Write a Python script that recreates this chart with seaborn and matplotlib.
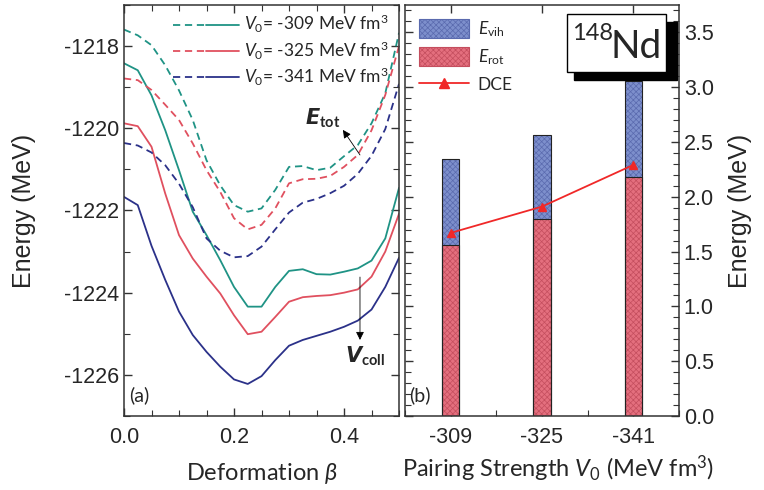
import numpy as np
import pandas as pd
import matplotlib
matplotlib.use("Agg")
import matplotlib.pyplot as plt
import seaborn as sns
from matplotlib.lines import Line2D
from matplotlib.patches import Patch, Rectangle
from matplotlib.legend_handler import HandlerTuple
from matplotlib.ticker import MultipleLocator, FormatStrFormatter

sns.set_style("ticks")
plt.rcParams['font.family'] = ['Liberation Sans', 'DejaVu Sans']
plt.rcParams['axes.unicode_minus'] = False
plt.rcParams['mathtext.fontset'] = 'custom'
plt.rcParams['mathtext.it'] = 'Lato:italic'
plt.rcParams['mathtext.rm'] = 'Lato'
plt.rcParams['mathtext.bf'] = 'Lato:bold'
plt.rcParams['hatch.linewidth'] = 0.5

TEAL = "#1f9385"
RED = "#e0505f"
NAVY = "#2b3189"
BAR_BLUE = "#7d8fcc"
BAR_BLUE_H = "#5a6aae"
BAR_RED = "#e46f7e"
BAR_RED_H = "#c44e5e"
DCE_RED = "#f02828"

# ---- panel (a): energy curves vs deformation ----
beta = [0.0, 0.025, 0.05, 0.075, 0.1, 0.125, 0.15, 0.175, 0.2, 0.225, 0.25,
        0.275, 0.3, 0.325, 0.35, 0.375, 0.4, 0.425, 0.45, 0.475, 0.5]
v0_labels = ["-309", "-325", "-341"]

etot_309 = [-1217.60, -1217.74, -1217.98, -1218.47, -1219.08, -1219.80, -1220.78,
            -1221.39, -1221.87, -1222.03, -1221.95, -1221.50, -1220.94, -1220.92,
            -1221.02, -1220.96, -1220.68, -1220.41, -1219.88, -1219.15, -1217.68]
etot_325 = [-1218.79, -1218.83, -1219.07, -1219.43, -1219.80, -1220.37, -1221.02,
            -1221.55, -1222.19, -1222.46, -1222.35, -1221.95, -1221.34, -1221.24,
            -1221.23, -1221.16, -1220.94, -1220.65, -1220.05, -1219.19, -1218.00]
etot_341 = [-1220.36, -1220.42, -1220.59, -1220.90, -1221.35, -1221.92, -1222.68,
            -1222.98, -1223.14, -1223.11, -1222.88, -1222.46, -1222.05, -1221.81,
            -1221.72, -1221.58, -1221.40, -1221.11, -1220.67, -1220.02, -1218.92]

vcoll_309 = [-1218.42, -1218.59, -1219.20, -1220.05, -1221.02, -1222.03, -1222.60,
             -1223.21, -1223.86, -1224.34, -1224.34, -1223.86, -1223.47, -1223.43,
             -1223.55, -1223.56, -1223.49, -1223.41, -1223.22, -1222.68, -1221.45]
vcoll_325 = [-1219.88, -1219.95, -1220.45, -1221.59, -1222.60, -1223.17, -1223.61,
             -1224.02, -1224.55, -1225.01, -1224.95, -1224.59, -1224.22, -1224.11,
             -1224.08, -1224.06, -1224.00, -1223.92, -1223.61, -1223.00, -1222.08]
vcoll_341 = [-1221.67, -1221.87, -1222.86, -1223.69, -1224.46, -1225.03, -1225.44,
             -1225.80, -1226.11, -1226.22, -1226.03, -1225.64, -1225.29, -1225.15,
             -1225.05, -1224.95, -1224.83, -1224.68, -1224.41, -1223.86, -1223.15]

# ---- panel (b): energies vs pairing strength ----
e_rot = [1.56, 1.80, 2.18]
e_total = [2.34, 2.56, 3.06]   # E_rot + E_vib (top of stacked bar)
dce = [1.67, 1.91, 2.29]

fig = plt.figure(figsize=(7.64, 4.90), dpi=100)
ax1 = fig.add_axes([0.1623, 0.151, 0.360, 0.839])
ax2 = fig.add_axes([0.530, 0.151, 0.3586, 0.839])

colors = [TEAL, RED, NAVY]
etots = [etot_309, etot_325, etot_341]
vcolls = [vcoll_309, vcoll_325, vcoll_341]
dash = (0, (4, 2.6))
handles = []
for c, et, vc in zip(colors, etots, vcolls):
    sns.lineplot(x=beta, y=et, ax=ax1, color=c, lw=1.3, linestyle=dash)
    sns.lineplot(x=beta, y=vc, ax=ax1, color=c, lw=1.3)
    handles.append((Line2D([], [], color=c, lw=1.3, linestyle=dash),
                    Line2D([], [], color=c, lw=1.3)))
for ln in ax1.lines:
    ln.set_solid_joinstyle('round')
    ln.set_dash_joinstyle('round')

labels = [f"$V_0$= {v} MeV fm$^3$" for v in v0_labels]
ax1.legend(handles, labels, handler_map={tuple: HandlerTuple(ndivide=None, pad=0)},
           loc='upper right', bbox_to_anchor=(1.0, 1.005), frameon=False,
           handlelength=3.8, handletextpad=0.3, labelspacing=0.25,
           prop={'family': 'Lato', 'size': 12.5}, borderaxespad=0.2)

ax1.set_xlim(0, 0.5)
ax1.set_ylim(-1227, -1217)
ax1.xaxis.set_major_locator(MultipleLocator(0.2))
ax1.xaxis.set_minor_locator(MultipleLocator(0.05))
ax1.yaxis.set_major_locator(MultipleLocator(2))
ax1.yaxis.set_minor_locator(MultipleLocator(1))
ax1.xaxis.set_major_formatter(FormatStrFormatter('%.1f'))
ax1.set_xlabel(r"Deformation $\beta$", fontsize=17, family='Lato', labelpad=9)
ax1.set_ylabel("Energy (MeV)", fontsize=18, labelpad=20)

ax1.annotate("", xy=(0.398, -1220.04), xytext=(0.429, -1220.65),
             arrowprops=dict(arrowstyle='-|>', color='black', lw=0.6,
                             mutation_scale=12, shrinkA=0, shrinkB=0))
ax1.text(0.362, -1219.75, r"$\boldsymbol{E}_{\mathbf{tot}}$", fontsize=15,
         ha='center', va='center')
ax1.annotate("", xy=(0.429, -1225.15), xytext=(0.429, -1223.62),
             arrowprops=dict(arrowstyle='-|>', color='black', lw=0.6,
                             mutation_scale=12, shrinkA=0, shrinkB=0))
ax1.text(0.438, -1225.55, r"$\boldsymbol{V}_{\mathbf{coll}}$", fontsize=15,
         ha='center', va='center')
ax1.text(0.02, 0.035, "(a)", transform=ax1.transAxes, fontsize=14, family='Lato')

# panel (b)
df = pd.DataFrame({'V0': v0_labels, 'total': e_total, 'rot': e_rot, 'dce': dce})
sns.barplot(data=df, x='V0', y='total', ax=ax2, color=BAR_BLUE, width=0.19,
            edgecolor=BAR_BLUE_H, linewidth=0, saturation=1)
n_blue = len(ax2.patches)
sns.barplot(data=df, x='V0', y='rot', ax=ax2, color=BAR_RED, width=0.19,
            edgecolor=BAR_RED_H, linewidth=0, saturation=1)
for i, p in enumerate(list(ax2.patches)):
    p.set_hatch('xxxxxx')
    p.set_edgecolor(BAR_BLUE_H if i < n_blue else BAR_RED_H)
    ax2.add_patch(Rectangle(p.get_xy(), p.get_width(), p.get_height(), fill=False,
                            edgecolor='#222222', lw=0.8, zorder=p.get_zorder() + 0.1))
sns.pointplot(data=df, x='V0', y='dce', ax=ax2, color=DCE_RED, markers='^',
              markersize=6, linewidth=1.3)

ax2.set_xlim(-0.5, 2.5)
ax2.set_ylim(0, 3.75)
ax2.yaxis.set_major_locator(MultipleLocator(0.5))
ax2.yaxis.set_minor_locator(MultipleLocator(0.1))
ax2.xaxis.set_minor_locator(MultipleLocator(0.5))
ax2.yaxis.tick_right()
ax2.yaxis.set_label_position('right')
ax2.set_ylabel("Energy (MeV)", fontsize=18, labelpad=10)
ax2.set_xlabel("Pairing Strength $V_0$ (MeV fm$^3$)", fontsize=17, family='Lato',
               labelpad=4, x=0.56)
ax2.text(0.015, 0.035, "(b)", transform=ax2.transAxes, fontsize=14, family='Lato')

leg_handles = [Patch(facecolor=BAR_BLUE, edgecolor=BAR_BLUE_H, hatch='xxxxxx', lw=0),
               Patch(facecolor=BAR_RED, edgecolor=BAR_RED_H, hatch='xxxxxx', lw=0),
               Line2D([], [], color=DCE_RED, marker='^', markersize=7, lw=1.3)]
leg = ax2.legend(leg_handles, [r"$E_{\mathrm{vih}}$", r"$E_{\mathrm{rot}}$", "DCE"],
                 loc='upper left', frameon=False, handlelength=2.9, handleheight=1.35,
                 labelspacing=0.45, handletextpad=0.5,
                 prop={'family': 'Lato', 'size': 12.5}, borderaxespad=0.4)
for lp in leg.get_patches():
    lp.set_linewidth(0.8)

# 148Nd box with shadow
ax2.add_patch(Rectangle((0.617, 0.818), 0.376, 0.140, transform=ax2.transAxes,
                        facecolor='black', edgecolor='black', zorder=5, clip_on=False))
ax2.add_patch(Rectangle((0.591, 0.837), 0.362, 0.141, transform=ax2.transAxes,
                        facecolor='white', edgecolor='black', lw=1.0, zorder=6,
                        clip_on=False))
ax2.text(0.61, 0.915, "148", transform=ax2.transAxes, fontsize=17, family='Lato',
         va='baseline', zorder=7)
ax2.text(0.752, 0.871, "Nd", transform=ax2.transAxes, fontsize=28, family='Lato',
         va='baseline', zorder=7)

for ax in (ax1, ax2):
    ax.tick_params(which='both', direction='in', top=True, bottom=True,
                   left=True, right=True, labelsize=15.5, color='#333333')
    ax.tick_params(which='major', length=6, width=1)
    ax.tick_params(which='minor', length=4, width=0.8)
    for s in ax.spines.values():
        s.set_color('#333333')
        s.set_linewidth(1.1)
ax2.tick_params(axis='x', which='minor', top=False)
ax2.tick_params(axis='y', which='both', labelleft=False, labelright=True)
ax2.tick_params(axis='x', which='major', pad=8)
ax1.tick_params(axis='x', which='major', pad=8)

fig.savefig("out.png", dpi=100)
